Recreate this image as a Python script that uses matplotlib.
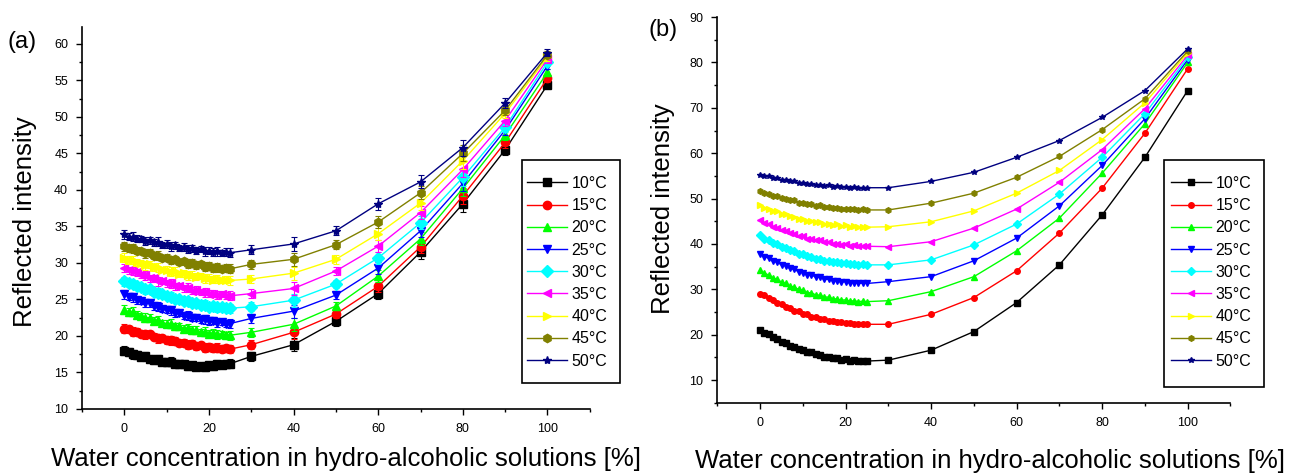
import matplotlib
matplotlib.use('Agg')
import matplotlib.pyplot as plt
from matplotlib.ticker import MultipleLocator
from matplotlib.patches import Rectangle

plt.rcParams['font.family'] = ['Liberation Sans', 'DejaVu Sans']

# water concentration [%]: dense steps up to 25, then every 10
water = [0, 1, 2, 3, 4, 5, 6, 7, 8, 9, 10, 11, 12, 13, 14, 15, 16, 17, 18, 19, 20, 21, 22, 23, 24, 25,
         30, 40, 50, 60, 70, 80, 90, 100]

temps = ['10°C', '15°C', '20°C', '25°C', '30°C', '35°C', '40°C', '45°C', '50°C']
colors = ['#000000', '#FF0000', '#00FF00', '#0000FF', '#00FFFF', '#FF00FF', '#FFFF00', '#808000', '#000080']
markers = ['s', 'o', '^', 'v', 'D', '<', '>', 'h', '*']

# panel (a)
a10 = [18.0, 17.8, 17.5, 17.4, 17.1, 17.2, 16.9, 16.7, 16.8, 16.5, 16.4, 16.5, 16.2, 16.1, 16.2, 15.9, 16.0, 15.8, 15.9, 15.8, 16.0, 15.9, 16.1, 16.0, 16.2, 16.2,
       17.2, 18.8, 22.0, 25.8, 31.5, 38.1, 45.5, 54.4]
a15 = [21.0, 20.9, 20.6, 20.6, 20.3, 20.2, 20.2, 19.9, 19.7, 19.7, 19.4, 19.4, 19.3, 19.0, 19.1, 18.8, 18.9, 18.6, 18.7, 18.4, 18.5, 18.3, 18.4, 18.2, 18.3, 18.2,
       18.8, 20.5, 23.0, 26.8, 32.2, 39.2, 46.5, 55.3]
a20 = [23.6, 23.3, 23.3, 22.9, 22.8, 22.5, 22.5, 22.1, 22.2, 21.8, 21.7, 21.7, 21.3, 21.4, 21.0, 21.1, 20.8, 20.8, 20.5, 20.6, 20.3, 20.4, 20.2, 20.3, 20.1, 20.1,
       20.5, 21.6, 24.1, 28.2, 33.3, 40.2, 47.5, 56.1]
a25 = [25.7, 25.4, 25.3, 24.9, 24.8, 24.5, 24.5, 24.1, 24.0, 23.7, 23.6, 23.5, 23.1, 23.1, 22.8, 22.8, 22.5, 22.5, 22.2, 22.3, 22.0, 22.1, 21.8, 21.9, 21.7, 21.7,
       22.4, 23.4, 25.6, 29.3, 34.4, 40.9, 48.2, 57.0]
a30 = [27.5, 27.2, 27.1, 26.8, 26.7, 26.4, 26.4, 26.0, 25.9, 25.8, 25.5, 25.4, 25.1, 25.1, 24.8, 24.8, 24.5, 24.5, 24.3, 24.3, 24.0, 24.1, 23.9, 23.9, 23.8, 23.8,
       24.0, 24.9, 27.1, 30.7, 35.5, 41.7, 48.6, 57.5]
a35 = [29.3, 29.0, 28.9, 28.7, 28.3, 28.3, 27.9, 27.9, 27.5, 27.5, 27.2, 27.2, 26.8, 26.9, 26.5, 26.6, 26.2, 26.3, 26.0, 26.0, 25.8, 25.8, 25.6, 25.7, 25.5, 25.5,
       25.8, 26.5, 28.9, 32.3, 36.9, 42.8, 49.5, 57.9]
a40 = [30.7, 30.4, 30.4, 30.1, 30.0, 29.7, 29.8, 29.4, 29.4, 29.1, 29.1, 28.8, 28.9, 28.5, 28.6, 28.3, 28.4, 28.1, 28.2, 27.9, 28.0, 27.7, 27.8, 27.6, 27.7, 27.6,
       27.8, 28.6, 30.5, 34.0, 38.2, 44.0, 50.5, 58.2]
a45 = [32.3, 32.0, 32.0, 31.7, 31.6, 31.3, 31.4, 31.0, 31.0, 30.7, 30.7, 30.4, 30.5, 30.1, 30.2, 29.9, 30.0, 29.7, 29.8, 29.5, 29.6, 29.3, 29.4, 29.2, 29.3, 29.2,
       29.8, 30.5, 32.5, 35.6, 39.6, 45.0, 50.9, 58.5]
a50 = [33.9, 33.6, 33.6, 33.3, 33.3, 33.0, 33.1, 32.8, 32.9, 32.5, 32.6, 32.3, 32.4, 32.1, 32.2, 31.9, 32.0, 31.7, 31.9, 31.6, 31.7, 31.5, 31.6, 31.4, 31.5, 31.4,
       31.8, 32.6, 34.4, 38.1, 41.1, 45.8, 51.9, 58.8]
err_a = [0.6, 0.5, 0.6, 0.5, 0.4, 0.6, 0.5, 0.5, 0.6, 0.4, 0.5, 0.6, 0.5, 0.4, 0.5, 0.6, 0.5, 0.5, 0.4, 0.6, 0.5, 0.5, 0.6, 0.4, 0.5, 0.6,
         0.6, 0.9, 0.6, 0.8, 0.9, 1.1, 0.7, 0.5]

# panel (b)
b10 = [21.1, 20.4, 20.1, 19.4, 19.1, 18.5, 18.2, 17.6, 17.4, 16.9, 16.7, 16.2, 16.1, 15.7, 15.6, 15.2, 15.2, 14.8, 14.8, 14.5, 14.6, 14.3, 14.4, 14.2, 14.3, 14.2,
       14.4, 16.6, 20.7, 27.1, 35.4, 46.4, 59.1, 73.8]
b15 = [29.0, 28.7, 28.0, 27.7, 27.0, 26.8, 26.1, 25.9, 25.3, 25.2, 24.6, 24.5, 24.0, 24.0, 23.5, 23.5, 23.1, 23.1, 22.7, 22.8, 22.5, 22.6, 22.3, 22.4, 22.3, 22.3,
       22.3, 24.5, 28.2, 34.1, 42.4, 52.3, 64.4, 78.6]
b20 = [34.2, 33.5, 33.2, 32.5, 32.2, 31.6, 31.3, 30.7, 30.5, 30.0, 29.8, 29.3, 29.2, 28.8, 28.7, 28.3, 28.3, 27.9, 27.9, 27.6, 27.7, 27.4, 27.5, 27.3, 27.4, 27.3,
       27.5, 29.5, 32.8, 38.5, 45.7, 55.6, 66.5, 80.0]
b25 = [37.9, 37.2, 36.9, 36.2, 36.0, 35.4, 35.2, 34.6, 34.4, 33.9, 33.7, 33.2, 33.2, 32.7, 32.7, 32.2, 32.2, 31.9, 31.9, 31.6, 31.7, 31.4, 31.5, 31.3, 31.4, 31.3,
       31.7, 32.8, 36.3, 41.3, 48.4, 57.3, 67.6, 80.6]
b30 = [41.9, 41.2, 40.9, 40.3, 40.0, 39.4, 39.2, 38.6, 38.5, 37.9, 37.8, 37.3, 37.2, 36.8, 36.7, 36.3, 36.3, 36.0, 36.0, 35.7, 35.8, 35.5, 35.6, 35.4, 35.5, 35.4,
       35.4, 36.5, 39.8, 44.4, 51.0, 59.1, 68.7, 81.1]
b35 = [45.2, 44.6, 44.4, 43.8, 43.6, 43.0, 42.9, 42.4, 42.2, 41.8, 41.7, 41.2, 41.2, 40.8, 40.8, 40.4, 40.4, 40.1, 40.1, 39.8, 39.9, 39.6, 39.7, 39.5, 39.6, 39.5,
       39.4, 40.5, 43.5, 47.7, 53.6, 60.8, 69.8, 81.6]
b40 = [48.5, 47.9, 47.8, 47.3, 47.2, 46.6, 46.6, 46.1, 46.0, 45.6, 45.6, 45.1, 45.1, 44.8, 44.8, 44.4, 44.5, 44.2, 44.3, 44.0, 44.1, 43.8, 43.9, 43.7, 43.8, 43.7,
       43.8, 44.9, 47.3, 51.2, 56.2, 63.0, 71.1, 82.1]
b45 = [51.7, 51.2, 51.1, 50.6, 50.5, 50.1, 50.0, 49.6, 49.6, 49.1, 49.1, 48.8, 48.8, 48.4, 48.5, 48.1, 48.2, 47.9, 48.0, 47.7, 47.8, 47.6, 47.7, 47.5, 47.6, 47.5,
       47.5, 49.0, 51.2, 54.7, 59.3, 65.2, 72.0, 82.5]
b50 = [55.3, 54.9, 54.9, 54.5, 54.5, 54.1, 54.1, 53.8, 53.8, 53.5, 53.5, 53.2, 53.3, 52.9, 53.0, 52.8, 52.9, 52.6, 52.7, 52.5, 52.6, 52.4, 52.5, 52.3, 52.4, 52.4,
       52.4, 53.8, 55.8, 59.1, 62.8, 67.9, 73.8, 83.0]

series_a = [a10, a15, a20, a25, a30, a35, a40, a45, a50]
series_b = [b10, b15, b20, b25, b30, b35, b40, b45, b50]

W, H = 1302, 475
fig = plt.figure(figsize=(W / 100, H / 100), dpi=100)
ax1 = fig.add_axes([0.063, 0.139, 0.390, 0.804])
ax2 = fig.add_axes([0.551, 0.152, 0.394, 0.812])


def style_axis(ax, ymin, ymax, ymaj, ymin_step):
    ax.set_xlim(-10, 110)
    ax.set_ylim(ymin, ymax)
    ax.xaxis.set_major_locator(MultipleLocator(20))
    ax.xaxis.set_minor_locator(MultipleLocator(10))
    ax.yaxis.set_major_locator(MultipleLocator(ymaj))
    ax.yaxis.set_minor_locator(MultipleLocator(ymin_step))
    for s in ['top', 'right']:
        ax.spines[s].set_visible(False)
    for s in ['left', 'bottom']:
        ax.spines[s].set_linewidth(1.2)
    ax.tick_params(which='major', direction='out', length=4, width=1, labelsize=9, pad=6)
    ax.tick_params(which='minor', direction='out', length=2.5, width=1)


# (a) with error bars
for ys, c, m, lab in zip(series_a, colors, markers, temps):
    ax1.errorbar(water, ys, yerr=err_a, fmt='none', ecolor=c, elinewidth=0.8, capsize=2.5, capthick=0.8)
    ax1.plot(water, ys, color=c, marker=m, markersize=6, lw=1, label=lab)
style_axis(ax1, 10, 62.3, 5, 2.5)
ax1.set_yticks([10, 15, 20, 25, 30, 35, 40, 45, 50, 55, 60])
ax1.set_xticks([0, 20, 40, 60, 80, 100])

# (b)
for ys, c, m, lab in zip(series_b, colors, markers, temps):
    ax2.plot(water, ys, color=c, marker=m, markersize=4, lw=1, label=lab)
style_axis(ax2, 5, 90, 10, 5)
ax2.set_yticks([10, 20, 30, 40, 50, 60, 70, 80, 90])
ax2.set_xticks([0, 20, 40, 60, 80, 100])

# legends with a separate box (wider vertical than horizontal padding)
for ax, hx, box in [(ax1, 527, (522, 160, 620, 383)), (ax2, 1171, (1164, 160, 1264, 387))]:
    ax.legend(loc='upper left', bbox_to_anchor=(hx / W, 1 - 176 / H), bbox_transform=fig.transFigure,
              fontsize=11.5, frameon=False, borderaxespad=0, borderpad=0,
              handlelength=2.5, handletextpad=0.3, labelspacing=0.45)
    x0, y0, x1, y1 = box
    fig.add_artist(Rectangle((x0 / W, 1 - y1 / H), (x1 - x0) / W, (y1 - y0) / H,
                             transform=fig.transFigure, fill=False, edgecolor='black', lw=1.2))

xlab = 'Water concentration in hydro-alcoholic solutions [%]'
fig.text(0.266, 0.033, xlab, ha='center', va='center', fontsize=18.5)
fig.text(0.760, 0.030, xlab, ha='center', va='center', fontsize=18.5)
fig.text(0.019, 0.533, 'Reflected intensity', rotation=90, ha='center', va='center', fontsize=18.5)
fig.text(0.509, 0.560, 'Reflected intensity', rotation=90, ha='center', va='center', fontsize=18.5)
fig.text(0.017, 0.912, '(a)', ha='center', va='center', fontsize=17)
fig.text(0.509, 0.937, '(b)', ha='center', va='center', fontsize=17)

fig.savefig('out.png', dpi=100)
